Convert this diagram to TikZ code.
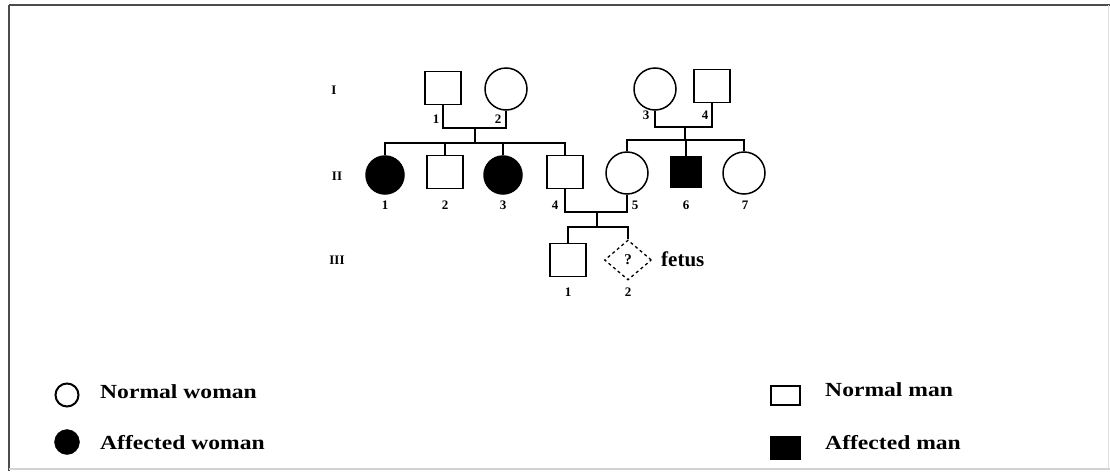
\documentclass[tikz,border=0pt]{standalone}
\usepackage{fontspec}
\setmainfont{Liberation Serif}
\newfontfamily\legfont[FakeStretch=1.18]{Liberation Serif}
\usetikzlibrary{shapes.geometric}
\tikzset{
  x=1pt,y=-1pt,
  ln/.style={line width=1.5pt},
  male/.style={draw, rectangle, line width=1.5pt, minimum width=36pt, minimum height=33pt, inner sep=0pt},
  female/.style={draw, circle, line width=1.5pt, minimum size=42pt, inner sep=0pt},
  aff/.style={fill=black},
  fetusbox/.style={draw, diamond, dashed, line width=1.3pt, minimum width=47pt, minimum height=40pt, inner sep=0pt, font=\bfseries\fontsize{15}{16}\selectfont},
  num/.style={font=\bfseries\fontsize{13}{14}\selectfont, inner sep=0pt},
  gen/.style={font=\bfseries\fontsize{13}{14}\selectfont, inner sep=0pt},
  leg/.style={font=\legfont\bfseries\fontsize{20}{22}\selectfont, anchor=west, inner sep=0pt},
}
\begin{document}
\begin{tikzpicture}
\useasboundingbox (0,0) rectangle (1110,471);
\fill[white] (0,0) rectangle (1110,471);
% frame
\draw[line width=2.5pt, gray!60!black] (9,5) -- (1110,5);
\draw[line width=2pt, gray!60!black] (9,5) -- (9,471);
\draw[line width=1.5pt, gray!35] (9,469) -- (1110,469);
\draw[line width=1pt, gray!25] (1108,5) -- (1108,469);

% generation labels
\node[gen] (gI) at (334,90) {I};
\node[gen] (gII) at (337,176) {II};
\node[gen] (gIII) at (337,260) {III};

% generation I
\node[male] (I1) at (443,88) {};
\node[female] (I2) at (506,89) {};
\node[female] (I3) at (655,89) {};
\node[male] (I4) at (712,86) {};
\node[num] (nI1) at (436,119) {1};
\node[num] (nI2) at (498,119) {2};
\node[num] (nI3) at (646,115) {3};
\node[num] (nI4) at (705,115) {4};

% generation II
\node[female, aff, minimum size=38pt] (II1) at (385,175) {};
\node[male] (II2) at (445,172) {};
\node[female, aff, minimum size=38pt] (II3) at (503,175) {};
\node[male] (II4) at (565,172) {};
\node[female] (II5) at (627,173) {};
\node[male, aff, minimum width=30pt, minimum height=31pt] (II6) at (686,172) {};
\node[female] (II7) at (744,173) {};
\node[num] (nII1) at (385,205) {1};
\node[num] (nII2) at (445,205) {2};
\node[num] (nII3) at (503,205) {3};
\node[num] (nII4) at (555,205) {4};
\node[num] (nII5) at (635,205) {5};
\node[num] (nII6) at (686,205) {6};
\node[num] (nII7) at (745,205) {7};

% generation III
\node[male] (III1) at (568,260) {};
\node[fetusbox] (III2) at (628,260) {?};
\node[font=\bfseries\fontsize{21}{22}\selectfont, anchor=west, inner sep=0pt] (fet) at (661,259) {fetus};
\node[num] (nIII1) at (568,292) {1};
\node[num] (nIII2) at (628,292) {2};

% junction coordinates
\coordinate (m1) at (475,128);
\coordinate (s1) at (475,143);
\coordinate (m2) at (685,127);
\coordinate (s2) at (685,140);
\coordinate (m3) at (597,212);
\coordinate (s3) at (597,227);

% family 1
\draw[ln] (I1.south) |- (m1) -| (I2.south);
\draw[ln] (m1) -- (s1);
\draw[ln] (II1.north) -- (II1.north |- s1) -- (II4.north |- s1) -- (II4.north);
\draw[ln] (II2.north) -- (II2.north |- s1);
\draw[ln] (II3.north) -- (II3.north |- s1);

% family 2
\draw[ln] (I3.south) |- (m2) -| (I4.south);
\draw[ln] (m2) -- (s2);
\draw[ln] (II5.north) -- (II5.north |- s2) -- (II7.north |- s2) -- (II7.north);
\draw[ln] (II6.north) -- (II6.north |- s2);

% family 3
\draw[ln] (II4.south) |- (m3) -| (II5.south);
\draw[ln] (m3) -- (s3);
\draw[ln] (III1.north) -- (III1.north |- s3) -- (III2.north |- s3) -- (III2.north);

% legend
\node[draw, circle, line width=2pt, minimum size=23pt, inner sep=0pt] (lw) at (67,395) {};
\node[leg] (tw) at (100,392) {Normal woman};
\node[draw, circle, fill=black, minimum size=25pt, inner sep=0pt] (la) at (67,442) {};
\node[leg] (ta) at (100,443) {Affected woman};
\node[draw, rectangle, line width=2pt, minimum width=29pt, minimum height=19pt, inner sep=0pt] (lm) at (785,395) {};
\node[leg] (tm) at (825,390) {Normal man};
\node[draw, rectangle, fill=black, minimum width=30pt, minimum height=23pt, inner sep=0pt] (lam) at (785,448) {};
\node[leg] (tam) at (825,443) {Affected man};
\end{tikzpicture}
\end{document}
